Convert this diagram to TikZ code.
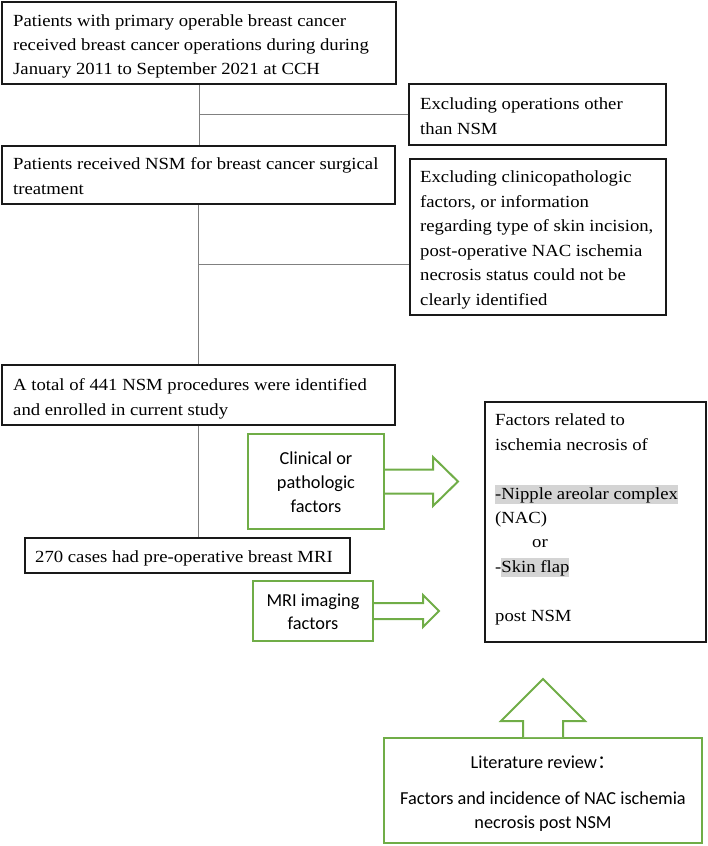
\documentclass[tikz,border=0pt]{standalone}
\usepackage{fontspec}
\setmainfont{Liberation Serif}[FakeStretch=1.1]
\newfontfamily\calib{Carlito}
\newfontfamily\cjk{Noto Sans CJK SC}
\usetikzlibrary{calc}
\definecolor{grn}{HTML}{70AD47}
\definecolor{hl}{HTML}{D4D4D4}
\definecolor{connc}{HTML}{808080}
\newcommand{\hlt}[1]{{\setlength{\fboxsep}{0pt}\colorbox{hl}{\rule[-5pt]{0pt}{19pt}#1}}}
\begin{document}
\begin{tikzpicture}[x=1pt,y=-1pt,
  blackbox/.style={draw=black!90, line width=1.5pt, rectangle, inner sep=0pt},
  greenbox/.style={draw=grn, line width=2pt, rectangle, inner sep=0pt, fill=white},
  serif/.style={inner sep=0pt, anchor=base west, align=left, font=\fontsize{17}{24.4}\selectfont},
  sans/.style={inner sep=0pt, anchor=base, align=center, font=\calib\fontsize{18.3}{24}\selectfont},
  connline/.style={draw=connc, line width=1pt},
  blockarrow/.style={draw=grn, line width=2pt, fill=white, line join=miter}]
\useasboundingbox (0,0) rectangle (708,846);

% boxes
\node[blackbox, minimum width=394pt, minimum height=82pt] (b1) at (199,43) {};
\node[blackbox, minimum width=257pt, minimum height=61pt] (e1) at (537.5,114.5) {};
\node[blackbox, minimum width=393pt, minimum height=58pt] (b3) at (198.5,175) {};
\node[blackbox, minimum width=256pt, minimum height=156pt] (e2) at (538,237) {};
\node[blackbox, minimum width=393pt, minimum height=60pt] (b5) at (198.5,395) {};
\node[blackbox, minimum width=325pt, minimum height=35pt] (b6) at (187.5,555.5) {};
\node[blackbox, minimum width=221pt, minimum height=240pt] (f) at (595.5,522) {};
\node[greenbox, minimum width=136pt, minimum height=95pt] (c) at (316,481.5) {};
\node[greenbox, minimum width=120pt, minimum height=60pt] (m) at (313,611) {};
\node[greenbox, minimum width=318pt, minimum height=105pt] (l) at (543,790.5) {};

% connectors
\draw[connline] (b1.south) -- (b1.south |- b3.north);
\draw[connline] (e1.west) -- (e1.west -| b1.south);
\draw[connline] (b3.south) -- (b3.south |- b5.north);
\coordinate (j2) at ([yshift=-27pt]e2.west);
\draw[connline] (j2) -- (j2 -| b3.south);
\draw[connline] (b5.south) -- (b5.south |- b6.north);

% block arrows
\draw[blockarrow] ([yshift=12pt]c.east) -- ++(48,0) -- ++(0,-12.5) -- ++(25,24.5) -- ++(-25,24.5) -- ++(0,-12.5) -- ([yshift=-12pt]c.east);
\draw[blockarrow] ([yshift=8pt]m.east) -- ++(49,0) -- ++(0,-8) -- ++(16,16) -- ++(-16,16) -- ++(0,-8) -- ([yshift=-8pt]m.east);
\draw[blockarrow] ([xshift=-20pt]l.north) -- ++(0,-16) -- ++(-22,0) -- ++(42,-42) -- ++(42,42) -- ++(-22,0) -- ([xshift=20pt]l.north);

% texts (anchored at the baseline of their last line)
\node[serif, font=\fontsize{17}{24}\selectfont] (t1) at (13,74) {Patients with primary operable breast cancer\\received breast cancer operations during during\\January 2011 to September 2021 at CCH};
\node[serif] (t2) at (420,134) {Excluding operations other\\than NSM};
\node[serif] (t3) at (13,194) {Patients received NSM for breast cancer surgical\\treatment};
\node[serif, font=\fontsize{17}{24.6}\selectfont] (t4) at (420,305.5) {Excluding clinicopathologic\\factors, or information\\regarding type of skin incision,\\post-operative NAC ischemia\\necrosis status could not be\\clearly identified};
\node[serif] (t5) at (13,415) {A total of 441 NSM procedures were identified\\and enrolled in current study};
\node[serif] (t6) at (35,562) {270 cases had pre-operative breast MRI};
\node[serif] (t7) at (495,621) {Factors related to\\ischemia necrosis of\\\mbox{}\\\hlt{-Nipple areolar complex}\\(NAC)\\\hspace*{37pt}or\\-\hlt{Skin flap}\\\mbox{}\\post NSM};
\node[sans] (t8) at (316,512) {Clinical or\\pathologic\\factors};
\node[sans, font=\calib\fontsize{18.3}{22.5}\selectfont] (t9) at (313,629) {MRI imaging\\factors};
\node[sans] (t10) at (543,828) {Literature review{\cjk ：}\\[12pt]Factors and incidence of NAC ischemia\\necrosis post NSM};
\end{tikzpicture}
\end{document}
